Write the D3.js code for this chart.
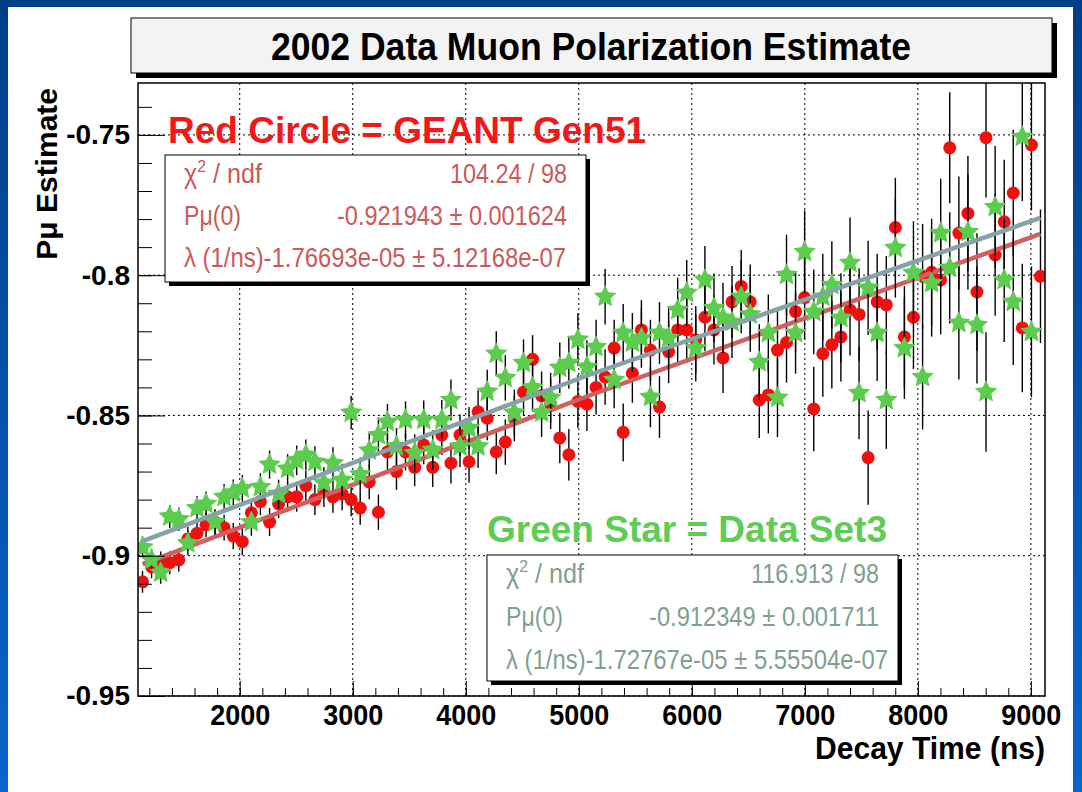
<!DOCTYPE html>
<html>
<head>
<meta charset="utf-8">
<script src="https://cdn.jsdelivr.net/npm/d3@7"></script>
<style>
body { margin: 0; background: #fff; }
svg { display: block; font-family: "Liberation Sans", Arial, Helvetica, sans-serif; }
</style>
</head>
<body>
<svg id="chart" width="1082" height="792"></svg>
<script>
// bin centres of the decay time histogram (ns)
const decayTime = [
  1140, 1220, 1301, 1381, 1461, 1541, 1622, 1702, 1782, 1862,
  1943, 2023, 2103, 2183, 2264, 2344, 2424, 2504, 2585, 2665,
  2745, 2825, 2906, 2986, 3066, 3146, 3227, 3307, 3387, 3467,
  3548, 3628, 3708, 3788, 3869, 3949, 4029, 4109, 4190, 4270,
  4350, 4430, 4511, 4591, 4671, 4751, 4832, 4912, 4992, 5072,
  5153, 5233, 5313, 5393, 5474, 5554, 5634, 5714, 5795, 5875,
  5955, 6035, 6116, 6196, 6276, 6356, 6437, 6517, 6597, 6677,
  6758, 6838, 6918, 6998, 7079, 7159, 7239, 7319, 7400, 7480,
  7560, 7640, 7721, 7801, 7881, 7961, 8042, 8122, 8202, 8282,
  8363, 8443, 8523, 8603, 8684, 8764, 8844, 8924, 9005, 9085
];

// GEANT Gen51 (red circles)
const redPol = [
  -0.9093, -0.904, -0.9025, -0.9025, -0.9015, -0.894, -0.892, -0.889, -0.888, -0.890,
  -0.893, -0.895, -0.8847, -0.8807, -0.888, -0.8815, -0.879, -0.879, -0.875, -0.880,
  -0.877, -0.879, -0.878, -0.880, -0.883, -0.8737, -0.8845, -0.863, -0.870, -0.863,
  -0.8685, -0.8605, -0.8685, -0.857, -0.867, -0.857, -0.8665, -0.8487, -0.851, -0.863,
  -0.8595, -0.851, -0.8417, -0.830, -0.843, -0.846, -0.858, -0.864, -0.845, -0.846,
  -0.840, -0.8363, -0.826, -0.856, -0.835, -0.8195, -0.8267, -0.847, -0.8273, -0.8195,
  -0.8195, -0.823, -0.815, -0.8195, -0.8295, -0.8095, -0.804, -0.8095, -0.8445, -0.8427,
  -0.8267, -0.824, -0.813, -0.808, -0.8477, -0.828, -0.8248, -0.822, -0.8124, -0.814,
  -0.865, -0.8095, -0.8106, -0.783, -0.822, -0.815, -0.8004, -0.799, -0.8017, -0.7546,
  -0.785, -0.778, -0.806, -0.751, -0.7928, -0.781, -0.7707, -0.8188, -0.7536, -0.8004
];

// Data Set3 (green stars)
const greenPol = [
  -0.897, -0.9015, -0.906, -0.886, -0.887, -0.8955, -0.883, -0.8815, -0.888, -0.879,
  -0.8775, -0.876, -0.888, -0.8755, -0.8675, -0.878, -0.869, -0.866, -0.864, -0.8665,
  -0.874, -0.867, -0.873, -0.849, -0.871, -0.8625, -0.857, -0.8523, -0.861, -0.8516,
  -0.8634, -0.8516, -0.8623, -0.8516, -0.8445, -0.861, -0.8545, -0.861, -0.8415, -0.828,
  -0.8366, -0.849, -0.8313, -0.840, -0.849, -0.8437, -0.833, -0.8313, -0.823, -0.8327,
  -0.8256, -0.8077, -0.8373, -0.8206, -0.824, -0.8224, -0.8434, -0.8206, -0.8224, -0.8124,
  -0.8063, -0.826, -0.8017, -0.8117, -0.8152, -0.8167, -0.8077, -0.814, -0.831, -0.8206,
  -0.8437, -0.7999, -0.8206, -0.7917, -0.8131, -0.8077, -0.8035, -0.8152, -0.7956, -0.842,
  -0.8045, -0.8206, -0.8445, -0.7903, -0.826, -0.7992, -0.8363, -0.8028, -0.785, -0.7974,
  -0.817, -0.7846, -0.8177, -0.8416, -0.7757, -0.8017, -0.8095, -0.7507, -0.8202
];

// half length of the error bars
const errBar = [
  0.0039, 0.0040, 0.0040, 0.0041, 0.0042, 0.0043, 0.0043, 0.0044, 0.0045, 0.0046,
  0.0047, 0.0048, 0.0049, 0.0049, 0.0050, 0.0051, 0.0052, 0.0053, 0.0054, 0.0055,
  0.0056, 0.0057, 0.0058, 0.0059, 0.0060, 0.0062, 0.0063, 0.0064, 0.0065, 0.0066,
  0.0067, 0.0069, 0.0070, 0.0071, 0.0073, 0.0074, 0.0075, 0.0077, 0.0078, 0.0080,
  0.0081, 0.0082, 0.0084, 0.0086, 0.0087, 0.0089, 0.0090, 0.0092, 0.0094, 0.0095,
  0.0097, 0.0099, 0.0101, 0.0103, 0.0105, 0.0106, 0.0108, 0.0110, 0.0112, 0.0115,
  0.0117, 0.0119, 0.0121, 0.0123, 0.0125, 0.0128, 0.0130, 0.0133, 0.0135, 0.0137,
  0.0140, 0.0143, 0.0145, 0.0148, 0.0151, 0.0153, 0.0156, 0.0159, 0.0162, 0.0165,
  0.0168, 0.0171, 0.0174, 0.0177, 0.0181, 0.0184, 0.0187, 0.0191, 0.0194, 0.0198,
  0.0202, 0.0205, 0.0209, 0.0213, 0.0217, 0.0221, 0.0225, 0.0229, 0.0233, 0.0238
];

// fit curves, read at the start, middle and end
const redFitT = [1140, 5100, 9085];
const redFitP = [-0.9030, -0.8428, -0.7853];
const greenFitT = [1140, 5100, 9085];
const greenFitP = [-0.8948, -0.8354, -0.7796];

const xTicks = [2000, 3000, 4000, 5000, 6000, 7000, 8000, 9000];
const yTicks = [-0.95, -0.9, -0.85, -0.8, -0.75];
const yTickLabels = ["-0.95", "-0.9", "-0.85", "-0.8", "-0.75"];

// stat box rows: label, value
const redStats = [
  ["χ2 / ndf", "104.24 / 98"],
  ["Pμ(0)", "-0.921943 ± 0.001624"],
  ["λ (1/ns)-1.76693e-05 ± 5.12168e-07", ""]
];
const greenStats = [
  ["χ2 / ndf", "116.913 / 98"],
  ["Pμ(0)", "-0.912349 ± 0.001711"],
  ["λ (1/ns)-1.72767e-05 ± 5.55504e-07", ""]
];

const svg = d3.select('#chart'),
  width = +svg.attr('width'),
  height = +svg.attr('height');

const pL = 138, pR = 1045, pT = 83, pB = 696;

const x = d3.scaleLinear().domain([1100, 9125]).range([pL, pR]);
const y = d3.scaleLinear().domain([-0.95, -0.7315]).range([pB, pT]);

// blue slide frame
const defs = svg.append('defs');
const grad = defs.append('linearGradient').attr('id', 'side').attr('x1', 0).attr('y1', 0).attr('x2', 0).attr('y2', 1);
grad.append('stop').attr('offset', '0%').attr('stop-color', '#003f88');
grad.append('stop').attr('offset', '100%').attr('stop-color', '#0a64cc');
defs.append('clipPath').attr('id', 'plotClip')
  .append('rect').attr('x', pL).attr('y', pT).attr('width', pR - pL).attr('height', pB - pT);

svg.append('rect').attr('x', 0).attr('y', 0).attr('width', width).attr('height', 7).attr('fill', '#00428a');
svg.append('rect').attr('x', 0).attr('y', 0).attr('width', 8).attr('height', height).attr('fill', 'url(#side)');
svg.append('rect').attr('x', 1073).attr('y', 0).attr('width', 9).attr('height', height).attr('fill', 'url(#side)');

// title box
svg.append('rect').attr('x', 136).attr('y', 23).attr('width', 921).attr('height', 55).attr('fill', '#000');
svg.append('rect').attr('x', 131).attr('y', 18).attr('width', 921).attr('height', 55)
  .attr('fill', '#f3f3f3').attr('stroke', '#000').attr('stroke-width', 1);
svg.append('text').attr('x', 591).attr('y', 60).attr('text-anchor', 'middle')
  .attr('font-size', '38px').attr('font-weight', 'bold')
  .attr('textLength', 640).attr('lengthAdjust', 'spacingAndGlyphs')
  .text('2002 Data Muon Polarization Estimate');

// grid
const grid = svg.append('g');
grid.selectAll('.gx').data(xTicks).enter().append('line')
  .attr('x1', d => x(d)).attr('x2', d => x(d)).attr('y1', pT).attr('y2', pB);
grid.selectAll('.gy').data(yTicks).enter().append('line')
  .attr('x1', pL).attr('x2', pR).attr('y1', d => y(d)).attr('y2', d => y(d));
grid.selectAll('line').attr('stroke', '#000').attr('stroke-width', 1).attr('stroke-dasharray', '2,3');

const plot = svg.append('g').attr('clip-path', 'url(#plotClip)');

const line = d3.line().x(d => x(d[0])).y(d => y(d[1]));

const starType = {
  draw(ctx, size) {
    const R = Math.sqrt(size), r = R * 0.48;
    for (let k = 0; k < 10; k++) {
      const a = -Math.PI / 2 + k * Math.PI / 5, rr = k % 2 ? r : R;
      if (k === 0) ctx.moveTo(rr * Math.cos(a), rr * Math.sin(a));
      else ctx.lineTo(rr * Math.cos(a), rr * Math.sin(a));
    }
    ctx.closePath();
  }
};

function drawSeries(values, fitT, fitP, color, fitColor, isStar) {
  const pts = values.map((v, i) => ({ t: decayTime[i], v: v, e: errBar[i] }));
  const g = plot.append('g');
  g.selectAll('.err').data(pts).enter().append('line')
    .attr('x1', d => x(d.t)).attr('x2', d => x(d.t))
    .attr('y1', d => y(d.v - d.e)).attr('y2', d => y(d.v + d.e))
    .attr('stroke', '#000').attr('stroke-width', 1.4);
  if (isStar) {
    g.selectAll('.mk').data(pts).enter().append('path')
      .attr('d', d3.symbol().type(starType).size(140))
      .attr('transform', d => `translate(${x(d.t)},${y(d.v)})`)
      .attr('fill', color);
  } else {
    g.selectAll('.mk').data(pts).enter().append('circle')
      .attr('cx', d => x(d.t)).attr('cy', d => y(d.v)).attr('r', 6.5)
      .attr('fill', color);
  }
  g.append('path').datum(fitT.map((t, i) => [t, fitP[i]]))
    .attr('d', line).attr('fill', 'none')
    .attr('stroke', fitColor).attr('stroke-width', 4.5);
}

drawSeries(redPol, redFitT, redFitP, '#f01010', '#cf6060', false);
drawSeries(greenPol, greenFitT, greenFitP, '#5ccc4e', '#86a2a6', true);

// frame
svg.append('rect').attr('x', pL).attr('y', pT).attr('width', pR - pL).attr('height', pB - pT)
  .attr('fill', 'none').attr('stroke', '#000').attr('stroke-width', 1.5);

// axes, ticks point into the frame
function styleAxis(g) {
  g.select('.domain').remove();
  g.selectAll('line').attr('stroke', '#000').attr('stroke-width', 1);
  g.selectAll('text').attr('fill', '#000').attr('font-weight', 'bold')
    .attr('font-family', '"Liberation Sans", Arial, sans-serif');
}

svg.append('g').attr('transform', `translate(0,${pB})`)
  .call(d3.axisBottom(x).tickValues(d3.range(1200, 9001, 200)).tickSize(-8).tickFormat(''))
  .call(styleAxis);
svg.append('g').attr('transform', `translate(0,${pB})`)
  .call(d3.axisBottom(x).tickValues(xTicks).tickSize(-15).tickPadding(8).tickFormat(d3.format('d')))
  .call(styleAxis)
  .selectAll('text').attr('font-size', '29px')
  .attr('textLength', 60).attr('lengthAdjust', 'spacingAndGlyphs');

svg.append('g').attr('transform', `translate(${pL},0)`)
  .call(d3.axisLeft(y).tickValues(d3.range(-95, -73, 1).map(d => d / 100)).tickSize(-14).tickFormat(''))
  .call(styleAxis);
svg.append('g').attr('transform', `translate(${pL},0)`)
  .call(d3.axisLeft(y).tickValues(yTicks).tickSize(-27).tickPadding(8).tickFormat((d, i) => yTickLabels[i]))
  .call(styleAxis)
  .selectAll('text').attr('font-size', '28px');

// axis titles
svg.append('text').attr('x', 1045).attr('y', 759).attr('text-anchor', 'end')
  .attr('font-size', '31px').attr('font-weight', 'bold')
  .attr('textLength', 230).attr('lengthAdjust', 'spacingAndGlyphs').text('Decay Time (ns)');
svg.append('text').attr('transform', 'translate(57,88) rotate(-90)').attr('text-anchor', 'end')
  .attr('font-size', '30px').attr('font-weight', 'bold').text('Pμ Estimate');

// legend titles and fit boxes
function statBox(bx, by, bw, bh, rows, color, rowY, widths) {
  svg.append('rect').attr('x', bx + 4).attr('y', by + 4).attr('width', bw).attr('height', bh).attr('fill', '#000');
  svg.append('rect').attr('x', bx).attr('y', by).attr('width', bw).attr('height', bh)
    .attr('fill', '#fff').attr('stroke', '#000').attr('stroke-width', 1);
  const tl = bx + 19, tr = bx + bw - 19;
  rows.forEach((r, i) => {
    const t = svg.append('text').attr('x', tl).attr('y', rowY[i])
      .attr('font-size', '27px').attr('fill', color)
      .attr('textLength', widths[i][0]).attr('lengthAdjust', 'spacingAndGlyphs');
    if (i === 0) {
      t.append('tspan').text('χ');
      t.append('tspan').attr('dy', -11).attr('font-size', '17px').text('2');
      t.append('tspan').attr('dy', 11).text(' / ndf');
    } else {
      t.text(r[0]);
    }
    if (r[1]) {
      svg.append('text').attr('x', tr).attr('y', rowY[i]).attr('text-anchor', 'end')
        .attr('font-size', '27px').attr('fill', color)
        .attr('textLength', widths[i][1]).attr('lengthAdjust', 'spacingAndGlyphs')
        .text(r[1]);
    }
  });
}

svg.append('text').attr('x', 168).attr('y', 143).attr('font-size', '37px').attr('font-weight', 'bold')
  .attr('fill', '#f01818').text('Red Circle = GEANT Gen51');
statBox(165, 155, 421, 127, redStats, '#c85a5a', [183, 225, 267],
  [[78, 117], [57, 230], [382, 0]]);

svg.append('text').attr('x', 487).attr('y', 542).attr('font-size', '37px').attr('font-weight', 'bold')
  .attr('fill', '#5fcc55').text('Green Star = Data Set3');
statBox(487, 555, 411, 126, greenStats, '#7f9f8f', [583, 626, 669],
  [[78, 128], [57, 230], [382, 0]]);
</script>
</body>
</html>
